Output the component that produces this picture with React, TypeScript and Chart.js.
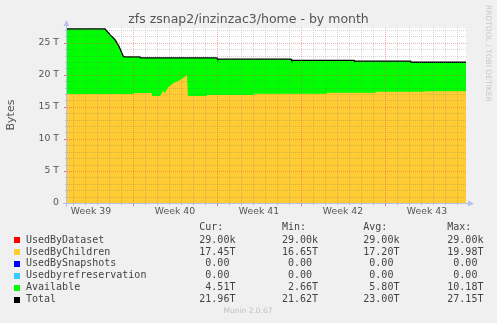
import React, { useEffect, useRef } from 'react';
import { Chart, registerables } from 'chart.js';

Chart.register(...registerables);

// x values are days counted from the Monday that starts week 39
const childrenDays = [1.5, 7.0, 7.05, 8.55, 8.6, 9.25, 9.53, 9.6, 9.67, 9.94, 10.36, 10.92, 11.33, 11.5, 11.58, 13.1, 13.15, 17.0, 17.05, 23.1, 23.15, 27.2, 27.25, 31.25, 31.3, 34.75];
const childrenValues = [17.02, 17.02, 17.15, 17.15, 16.7, 16.7, 17.6, 17.2, 17.2, 18.1, 18.7, 19.2, 19.7, 19.98, 16.68, 16.68, 16.84, 16.84, 17.05, 17.05, 17.2, 17.2, 17.36, 17.36, 17.45, 17.45];

const totalDays = [1.5, 4.67, 5.08, 5.5, 5.83, 6.19, 6.3, 7.58, 7.62, 14.0, 14.05, 20.17, 20.22, 25.42, 25.47, 30.14, 30.19, 34.75];
const totalValues = [27.15, 27.15, 26.26, 25.48, 24.46, 22.9, 22.79, 22.79, 22.63, 22.63, 22.43, 22.43, 22.24, 22.24, 22.12, 22.12, 21.96, 21.96];

const weekLabels = ['Week 39', 'Week 40', 'Week 41', 'Week 42', 'Week 43'];
const weekCenters = [3.5, 10.5, 17.5, 24.5, 31.5];
const yLabelValues = [0, 5, 10, 15, 20, 25];

const seriesNames = ['UsedByDataset', 'UsedByChildren', 'UsedBySnapshots', 'Usedbyrefreservation', 'Available', 'Total'];
const seriesColors = ['#ff0000', '#ffcc33', '#0000ff', '#33ccff', '#00ff00', '#000000'];
const curValues = ['29.00k', '17.45T', '0.00', '0.00', '4.51T', '21.96T'];
const minValues = ['29.00k', '16.65T', '0.00', '0.00', '2.66T', '21.62T'];
const avgValues = ['29.00k', '17.20T', '0.00', '0.00', '5.80T', '23.00T'];
const maxValues = ['29.00k', '19.98T', '0.00', '0.00', '10.18T', '27.15T'];

const titleText = 'zfs zsnap2/inzinzac3/home - by month';
const yAxisTitle = 'Bytes';
const sideText = 'RRDTOOL / TOBI OETIKER';
const footerText = 'Munin 2.0.67';

const X_MIN = 1.5;
const X_MAX = 34.75;
const Y_MAX = 27.3;
const DAYS_PER_WEEK = 7;
const Y_MAJOR = 5;

const W = 497;
const H = 323;

function fmt(v: string): string {
  const last = v[v.length - 1];
  const hasUnit = /[a-zA-Z]/.test(last);
  const num = hasUnit ? v.slice(0, -1) : v;
  const unit = hasUnit ? last : ' ';
  return num.padStart(5, ' ') + unit;
}

const decorPlugin = {
  id: 'decor',
  beforeDraw(chart: any) {
    const { ctx, chartArea } = chart;
    ctx.save();
    ctx.fillStyle = '#f0f0f0';
    ctx.fillRect(0, 0, W, H);
    ctx.fillStyle = '#ffffff';
    ctx.fillRect(chartArea.left, chartArea.top, chartArea.right - chartArea.left, chartArea.bottom - chartArea.top);
    ctx.restore();
  },
  afterDatasetsDraw(chart: any) {
    const { ctx, chartArea } = chart;
    const xs = chart.scales.x;
    const ys = chart.scales.y;
    const minor = 'rgba(120,120,120,0.3)';
    const major = 'rgba(230,70,70,0.45)';
    ctx.save();
    ctx.lineWidth = 1;
    ctx.setLineDash([1, 1]);
    for (let d = Math.ceil(X_MIN); d <= X_MAX; d++) {
      const x = Math.round(xs.getPixelForValue(d)) + 0.5;
      ctx.strokeStyle = d % DAYS_PER_WEEK === 0 ? major : minor;
      ctx.beginPath();
      ctx.moveTo(x, chartArea.top);
      ctx.lineTo(x, chartArea.bottom);
      ctx.stroke();
    }
    for (let v = 1; v <= Y_MAX; v++) {
      const y = Math.round(ys.getPixelForValue(v)) + 0.5;
      ctx.strokeStyle = v % Y_MAJOR === 0 ? major : minor;
      ctx.beginPath();
      ctx.moveTo(chartArea.left, y);
      ctx.lineTo(chartArea.right, y);
      ctx.stroke();
    }
    ctx.setLineDash([]);
    for (let d = Math.ceil(X_MIN); d <= X_MAX; d++) {
      const x = Math.round(xs.getPixelForValue(d)) + 0.5;
      const isMajor = d % DAYS_PER_WEEK === 0;
      ctx.strokeStyle = isMajor ? '#e07070' : '#b8b8b8';
      ctx.beginPath();
      ctx.moveTo(x, chartArea.bottom);
      ctx.lineTo(x, chartArea.bottom + (isMajor ? 3 : 2));
      ctx.stroke();
    }
    for (let v = 0; v <= Y_MAX; v++) {
      const y = Math.round(ys.getPixelForValue(v)) + 0.5;
      const isMajor = v % Y_MAJOR === 0;
      ctx.strokeStyle = isMajor ? '#e07070' : '#b8b8b8';
      ctx.beginPath();
      ctx.moveTo(chartArea.left - (isMajor ? 3 : 2), y);
      ctx.lineTo(chartArea.left, y);
      ctx.stroke();
    }
    const axisColor = '#b8c0ee';
    ctx.strokeStyle = axisColor;
    const by = Math.round(chartArea.bottom) + 0.5;
    const lx = Math.round(chartArea.left) - 0.5;
    ctx.beginPath();
    ctx.moveTo(chartArea.left - 4, by);
    ctx.lineTo(chartArea.right + 4, by);
    ctx.moveTo(lx, chartArea.bottom + 4);
    ctx.lineTo(lx, chartArea.top - 3);
    ctx.stroke();
    ctx.fillStyle = axisColor;
    ctx.beginPath();
    ctx.moveTo(chartArea.right + 2, by - 3);
    ctx.lineTo(chartArea.right + 8, by);
    ctx.lineTo(chartArea.right + 2, by + 3);
    ctx.closePath();
    ctx.fill();
    ctx.beginPath();
    ctx.moveTo(lx - 3, chartArea.top - 2);
    ctx.lineTo(lx, chartArea.top - 8);
    ctx.lineTo(lx + 3, chartArea.top - 2);
    ctx.closePath();
    ctx.fill();
    ctx.restore();
  },
  afterDraw(chart: any) {
    const { ctx } = chart;
    ctx.save();
    ctx.fillStyle = '#555555';
    ctx.font = '12.5px "DejaVu Sans"';
    ctx.textAlign = 'center';
    ctx.textBaseline = 'alphabetic';
    ctx.fillText(titleText, 248.5, 22.5);
    ctx.save();
    ctx.translate(11, 115);
    ctx.rotate(-Math.PI / 2);
    ctx.font = '11px "DejaVu Sans"';
    ctx.textAlign = 'center';
    ctx.textBaseline = 'middle';
    ctx.fillText(yAxisTitle, 0, 0);
    ctx.restore();
    ctx.save();
    ctx.translate(488, 5);
    ctx.rotate(Math.PI / 2);
    ctx.font = '7.5px "DejaVu Sans"';
    ctx.fillStyle = '#c8c8c8';
    ctx.textAlign = 'left';
    ctx.textBaseline = 'middle';
    ctx.fillText(sideText, 0, 0);
    ctx.restore();
    ctx.font = '10px "DejaVu Sans Mono"';
    ctx.textAlign = 'left';
    ctx.textBaseline = 'middle';
    ctx.fillStyle = '#444444';
    const colX = [199.3, 282, 363.3, 447.3];
    const headers = ['Cur:', 'Min:', 'Avg:', 'Max:'];
    headers.forEach((h, i) => ctx.fillText(h, colX[i], 227.5));
    const cols = [curValues, minValues, avgValues, maxValues];
    seriesNames.forEach((name, r) => {
      const cy = 240 + r * 11.95;
      ctx.fillStyle = seriesColors[r];
      ctx.fillRect(14, Math.round(cy) - 3, 6, 6);
      ctx.fillStyle = '#444444';
      ctx.fillText(name, 26, cy);
      cols.forEach((c, i) => ctx.fillText(fmt(c[r]), colX[i], cy));
    });
    ctx.font = '7.5px "DejaVu Sans"';
    ctx.fillStyle = '#c0c0c0';
    ctx.textAlign = 'center';
    ctx.fillText(footerText, 248, 311);
    ctx.restore();
  },
};

export default function App() {
  const ref = useRef<HTMLCanvasElement | null>(null);
  useEffect(() => {
    if (!ref.current) return;
    const chart = new Chart(ref.current, {
      type: 'line',
      data: {
        datasets: [
          {
            label: 'UsedByChildren',
            data: childrenDays.map((d, i) => ({ x: d, y: childrenValues[i] })),
            backgroundColor: '#ffcc33',
            borderColor: '#ffcc33',
            borderWidth: 0,
            fill: 'origin',
            pointRadius: 0,
          },
          {
            label: 'Total',
            data: totalDays.map((d, i) => ({ x: d, y: totalValues[i] })),
            backgroundColor: '#00ff00',
            borderColor: '#000000',
            borderWidth: 1.3,
            fill: 'origin',
            pointRadius: 0,
          },
        ],
      },
      options: {
        animation: false,
        responsive: false,
        devicePixelRatio: 1,
        layout: { padding: { top: 28, right: 31, left: 0, bottom: 0 } },
        plugins: {
          legend: { display: false },
          title: { display: false },
          tooltip: { enabled: false },
        },
        elements: { line: { tension: 0 }, point: { radius: 0 } },
        scales: {
          x: {
            type: 'linear',
            min: X_MIN,
            max: X_MAX,
            grid: { display: false, drawTicks: false },
            border: { display: false },
            afterBuildTicks: (s: any) => {
              s.ticks = weekCenters.map((v) => ({ value: v }));
            },
            afterFit: (s: any) => {
              s.height = H - 203;
            },
            ticks: {
              autoSkip: false,
              maxRotation: 0,
              padding: 3,
              color: '#555555',
              font: { family: 'DejaVu Sans', size: 9.3 },
              callback: (v: any) => {
                const i = weekCenters.indexOf(Number(v));
                return i >= 0 ? weekLabels[i] : '';
              },
            },
          },
          y: {
            type: 'linear',
            min: 0,
            max: Y_MAX,
            grid: { display: false, drawTicks: false },
            border: { display: false },
            afterBuildTicks: (s: any) => {
              s.ticks = yLabelValues.map((v) => ({ value: v }));
            },
            afterFit: (s: any) => {
              s.width = 67;
            },
            ticks: {
              autoSkip: false,
              padding: 8,
              color: '#555555',
              font: { family: 'DejaVu Sans', size: 9.3 },
              callback: (v: any) => (Number(v) === 0 ? '0' : `${v} T`),
            },
          },
        },
      },
      plugins: [decorPlugin],
    } as any);
    return () => chart.destroy();
  }, []);
  return (
    <div style={{ position: 'fixed', left: 0, top: 0, width: W, height: H, background: '#f0f0f0' }}>
      <canvas ref={ref} width={W} height={H} style={{ display: 'block', width: W, height: H }} />
    </div>
  );
}
